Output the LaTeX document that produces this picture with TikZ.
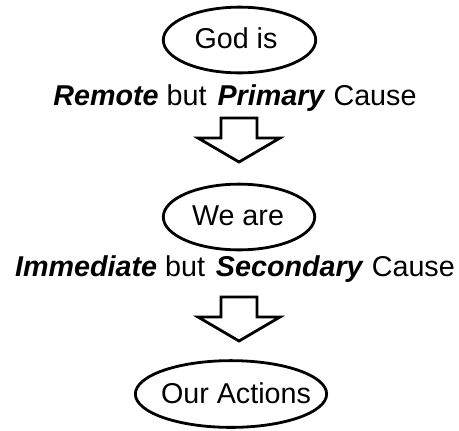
\documentclass[tikz,border=0pt]{standalone}
\usepackage{fontspec}
\setmainfont{Liberation Sans}
\usetikzlibrary{shapes.geometric}
\tikzset{
  oval/.style={ellipse, draw=black, line width=2.8bp, inner sep=0pt},
  lbl/.style={anchor=base, inner sep=0pt, font=\fontsize{28.8}{32}\selectfont},
  blockarrow/.style={draw=black, line width=2.8bp, fill=white, line join=miter},
}
\newcommand{\bi}[1]{\textbf{\textit{#1}}}
\begin{document}
\begin{tikzpicture}[x=1bp,y=-1bp]
\useasboundingbox (0,0) rectangle (459,430);
% ovals
\node[oval, minimum width=153, minimum height=66] (e1) at (239.5,40) {};
\node[lbl] (t1) at (236,48) {God is};
\node[oval, minimum width=152, minimum height=66] (e2) at (239,217) {};
\node[lbl] (t2) at (238,225.5) {We are};
\node[oval, minimum width=192, minimum height=67] (e3) at (231,394) {};
\node[lbl] (t3) at (236,403.5) {Our Actions};
% captions
\node[lbl] (c1) at (235,105.5) {\bi{Remote} but \hspace{3bp}\bi{Primary} Cause};
\node[lbl] (c2) at (235,276.5) {\bi{Immediate} but \hspace{3bp}\bi{Secondary} Cause};
% block arrows
\coordinate (a1) at (239,118);
\coordinate (a2) at (239,297);
\foreach \a in {a1,a2}{
  \draw[blockarrow] (\a) ++(-18,0) -- ++(36,0) -- ++(0,20) -- ++(23,0)
    -- ++(-41,24) -- ++(-41,-24) -- ++(23,0) -- cycle;
}
\end{tikzpicture}
\end{document}
